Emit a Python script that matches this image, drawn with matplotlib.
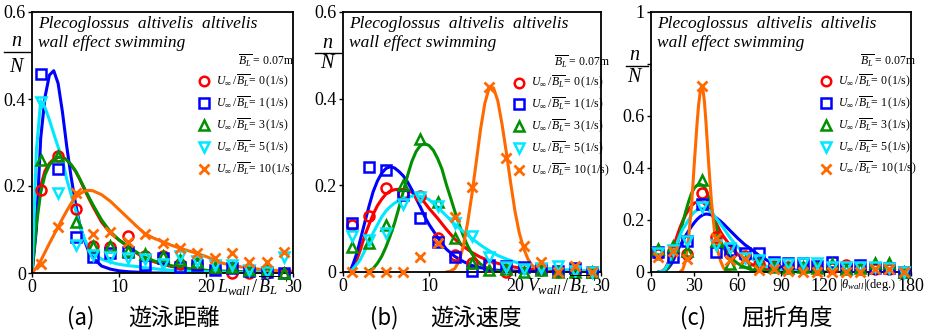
import matplotlib
matplotlib.use('Agg')
import matplotlib.pyplot as plt
from matplotlib.lines import Line2D

plt.rcParams['font.family'] = ['Liberation Serif', 'DejaVu Serif']
plt.rcParams['mathtext.fontset'] = 'custom'
plt.rcParams['mathtext.rm'] = 'Liberation Serif'
plt.rcParams['mathtext.it'] = 'Liberation Serif:italic'
plt.rcParams['mathtext.bf'] = 'Liberation Serif:bold'

# ---------------- series ----------------
speeds = ['0', '1', '3', '5', '10']
colors = ['#ff0000', '#0000ff', '#009000', '#00e8ff', '#ff6a00']
markers = ['o', 's', '^', 'v', 'x']

# ---------------- (a) swimming distance ----------------
dist_x = [1, 3, 5, 7, 9, 11, 13, 15, 17, 19, 21, 23, 25, 27, 29]
dist_p0 = [0.19, 0.269, 0.146, 0.061, 0.06, 0.084, 0.04, 0.038, 0.02, 0.02, 0.01, 0.0, 0.0, 0.0, 0.0]
dist_p1 = [0.458, 0.238, 0.083, 0.037, 0.045, 0.048, 0.018, 0.035, 0.014, 0.018, 0.006, 0.012, 0.004, 0.003, 0.0]
dist_p3 = [0.259, 0.268, 0.117, 0.061, 0.061, 0.05, 0.044, 0.038, 0.03, 0.025, 0.014, 0.014, 0.008, 0.006, 0.0]
dist_p5 = [0.393, 0.184, 0.064, 0.041, 0.037, 0.035, 0.033, 0.021, 0.038, 0.028, 0.018, 0.018, 0.008, 0.003, 0.037]
dist_p10 = [0.021, 0.106, 0.184, 0.09, 0.094, 0.071, 0.09, 0.069, 0.058, 0.046, 0.035, 0.046, 0.025, 0.025, 0.048]

dist_cx = [0, 0.5, 1, 1.5, 2, 2.5, 3, 3.5, 4, 4.5, 5, 5.5, 6, 6.5, 7, 8, 9, 10, 11, 12, 13, 14,
           15, 16, 17, 18, 19, 20, 22, 24, 26, 28, 30]
dist_c0 = [0, 0.13, 0.2, 0.235, 0.252, 0.262, 0.266, 0.266, 0.26, 0.248, 0.234, 0.215, 0.193, 0.173,
           0.153, 0.117, 0.092, 0.076, 0.061, 0.046, 0.034, 0.026, 0.02, 0.015, 0.012, 0.009, 0.007,
           0.006, 0.004, 0.003, 0.002, 0.001, 0.001]
dist_c1 = [0, 0.1, 0.31, 0.405, 0.455, 0.465, 0.436, 0.37, 0.29, 0.22, 0.16, 0.11, 0.077, 0.05,
           0.035, 0.016, 0.009, 0.005, 0.003, 0.002, 0.001, 0, 0, 0, 0, 0, 0, 0, 0, 0, 0, 0, 0]
dist_c3 = [0, 0.11, 0.185, 0.226, 0.248, 0.26, 0.266, 0.266, 0.26, 0.249, 0.235, 0.216, 0.196, 0.176,
           0.157, 0.122, 0.095, 0.076, 0.062, 0.048, 0.036, 0.028, 0.022, 0.017, 0.013, 0.01, 0.008,
           0.006, 0.004, 0.003, 0.002, 0.001, 0.001]
dist_c5 = [0, 0.28, 0.396, 0.38, 0.352, 0.32, 0.29, 0.26, 0.215, 0.18, 0.145, 0.11, 0.08, 0.058,
           0.045, 0.032, 0.025, 0.02, 0.017, 0.015, 0.012, 0.01, 0.008, 0.006, 0.005, 0.004, 0.003,
           0.003, 0.002, 0.001, 0.001, 0, 0]
dist_c10 = [0, 0.012, 0.028, 0.048, 0.068, 0.087, 0.106, 0.125, 0.143, 0.16, 0.174, 0.182, 0.188, 0.19,
            0.189, 0.18, 0.165, 0.146, 0.127, 0.108, 0.09, 0.08, 0.072, 0.064, 0.057, 0.051, 0.045,
            0.038, 0.022, 0.014, 0.009, 0.006, 0.004]

# ---------------- (b) swimming speed ----------------
speed_x = [1, 3, 5, 7, 9, 11, 13, 15, 17, 19, 21, 23, 25, 27, 29]
speed_p0 = [0.108, 0.13, 0.193, 0.18, 0.175, 0.079, 0.04, 0.02, 0.015, 0.0, 0.01, 0.005, 0.0, 0.0, 0.0]
speed_p1 = [0.112, 0.242, 0.235, 0.178, 0.124, 0.07, 0.034, 0.003, 0.016, 0.014, 0.011, 0.006, 0.002, 0.01, 0.0]
speed_p3 = [0.058, 0.066, 0.108, 0.2, 0.308, 0.162, 0.078, 0.02, 0.004, 0.006, 0.0, 0.005, 0.0, 0.0, 0.0]
speed_p5 = [0.082, 0.074, 0.091, 0.157, 0.172, 0.152, 0.112, 0.082, 0.035, 0.012, 0.008, 0.01, 0.014, 0.002, 0.0]
speed_p10 = [0.0, 0.0, 0.0, 0.0, 0.035, 0.068, 0.126, 0.197, 0.428, 0.263, 0.06, 0.023, 0.0, 0.014, 0.0]

speed_cx = [0.8, 1.2, 1.6, 2, 2.5, 3, 3.5, 4, 4.5, 5, 5.5, 6, 6.5, 7, 7.5, 8, 8.5, 9, 9.5, 10,
            11, 12, 13, 14, 15, 16, 17, 18, 19, 20, 22, 24, 26, 28, 30]
speed_c0 = [0, 0.012, 0.028, 0.05, 0.082, 0.108, 0.133, 0.153, 0.168, 0.18, 0.187, 0.19, 0.191, 0.19,
            0.188, 0.184, 0.178, 0.17, 0.16, 0.147, 0.124, 0.099, 0.076, 0.059, 0.045, 0.034, 0.026,
            0.02, 0.015, 0.011, 0.006, 0.003, 0.002, 0.001, 0]
speed_c1 = [0, 0.02, 0.043, 0.073, 0.112, 0.15, 0.185, 0.21, 0.228, 0.239, 0.243, 0.24, 0.232, 0.222,
            0.208, 0.19, 0.17, 0.15, 0.128, 0.11, 0.08, 0.053, 0.036, 0.024, 0.015, 0.01, 0.006,
            0.004, 0.003, 0.002, 0.001, 0, 0, 0, 0]
speed_c5 = [0, 0.008, 0.018, 0.028, 0.048, 0.07, 0.09, 0.109, 0.127, 0.141, 0.151, 0.159, 0.165, 0.17,
            0.173, 0.175, 0.176, 0.175, 0.172, 0.167, 0.15, 0.13, 0.11, 0.093, 0.077, 0.062, 0.049,
            0.038, 0.03, 0.023, 0.013, 0.008, 0.005, 0.003, 0.002]
speed_c3x = [2.8, 3.5, 4, 4.5, 5, 5.5, 6, 6.5, 7, 7.5, 8, 8.5, 9, 9.5, 10, 10.5, 11, 11.5, 12, 12.5,
             13, 13.5, 14, 14.5, 15, 15.5, 16, 17, 18, 19, 20]
speed_c3 = [0, 0.008, 0.02, 0.036, 0.058, 0.084, 0.113, 0.148, 0.185, 0.222, 0.255, 0.278, 0.292, 0.296,
            0.292, 0.281, 0.262, 0.238, 0.203, 0.172, 0.14, 0.11, 0.083, 0.06, 0.042, 0.028, 0.018,
            0.006, 0.002, 0.001, 0]
speed_c10x = [12, 12.5, 13, 13.5, 14, 14.5, 15, 15.5, 16, 16.5, 17, 17.5, 18, 18.5, 19, 19.5, 20,
              20.5, 21, 21.5, 22, 22.5, 23, 24]
speed_c10 = [0, 0.002, 0.008, 0.025, 0.06, 0.115, 0.18, 0.255, 0.33, 0.39, 0.425, 0.425, 0.395, 0.34,
             0.275, 0.205, 0.14, 0.09, 0.055, 0.03, 0.015, 0.007, 0.003, 0]

# ---------------- (c) refraction angle ----------------
ang_x = [5, 15, 25, 35, 45, 55, 65, 75, 85, 95, 105, 115, 125, 135, 145, 155, 165, 175]
ang_p0 = [0.07, 0.08, 0.07, 0.303, 0.133, 0.07, 0.06, 0.03, 0.025, 0.02, 0.015, 0.01, 0.015, 0.028, 0.01, 0.01, 0.01, 0.0]
ang_p1 = [0.078, 0.056, 0.119, 0.262, 0.078, 0.085, 0.072, 0.074, 0.04, 0.034, 0.034, 0.025, 0.04, 0.015, 0.026, 0.015, 0.015, 0.0]
ang_p3 = [0.087, 0.1, 0.082, 0.354, 0.12, 0.031, 0.04, 0.031, 0.02, 0.015, 0.02, 0.015, 0.03, 0.01, 0.015, 0.035, 0.035, 0.0]
ang_p5 = [0.072, 0.085, 0.119, 0.251, 0.104, 0.091, 0.053, 0.046, 0.03, 0.03, 0.036, 0.034, 0.02, 0.02, 0.02, 0.02, 0.015, 0.0]
ang_p10 = [0.056, 0.082, 0.049, 0.715, 0.13, 0.046, 0.049, 0.008, 0.013, 0.005, 0.0, 0.0, 0.0, 0.0, 0.0, 0.013, 0.013, 0.0]

ang_cx = [5, 8, 10, 12, 14, 16, 18, 20, 22, 24, 26, 28, 30, 32, 34, 36, 38, 40, 42, 44, 46, 48, 50,
          55, 60, 65, 70, 75, 80, 85, 90, 95, 100, 110, 120]
ang_c0 = [0, 0.004, 0.015, 0.038, 0.07, 0.104, 0.138, 0.17, 0.197, 0.22, 0.24, 0.255, 0.265, 0.27,
          0.271, 0.267, 0.257, 0.242, 0.224, 0.202, 0.178, 0.156, 0.138, 0.1, 0.068, 0.045, 0.028,
          0.017, 0.01, 0.006, 0.003, 0.002, 0.001, 0, 0]
ang_c1 = [0, 0.002, 0.006, 0.015, 0.03, 0.052, 0.078, 0.1, 0.12, 0.14, 0.158, 0.175, 0.19, 0.203,
          0.213, 0.22, 0.223, 0.222, 0.219, 0.213, 0.205, 0.196, 0.186, 0.158, 0.13, 0.105, 0.085,
          0.063, 0.046, 0.032, 0.02, 0.012, 0.007, 0.002, 0]
ang_c3 = [0, 0, 0.005, 0.02, 0.042, 0.072, 0.1, 0.147, 0.19, 0.232, 0.27, 0.302, 0.323, 0.334, 0.337,
          0.333, 0.318, 0.285, 0.24, 0.197, 0.158, 0.123, 0.095, 0.055, 0.033, 0.018, 0.008, 0.004,
          0.002, 0.001, 0, 0, 0, 0, 0]
ang_c5 = [0, 0.003, 0.013, 0.032, 0.058, 0.088, 0.112, 0.14, 0.165, 0.182, 0.2, 0.218, 0.23, 0.239,
          0.244, 0.245, 0.243, 0.238, 0.228, 0.215, 0.2, 0.185, 0.17, 0.13, 0.097, 0.07, 0.05, 0.034,
          0.022, 0.014, 0.009, 0.006, 0.004, 0.001, 0]
ang_c10x = [20, 22, 24, 26, 28, 30, 32, 33, 34, 35, 36, 37, 38, 40, 42, 44, 46, 48, 50, 52, 55]
ang_c10 = [0, 0.01, 0.045, 0.13, 0.25, 0.42, 0.58, 0.645, 0.69, 0.712, 0.7, 0.655, 0.58, 0.41, 0.26,
           0.155, 0.085, 0.045, 0.018, 0.006, 0]

# ---------------- axes text ----------------
title_line1 = 'Plecoglossus  altivelis  altivelis'
title_line2 = 'wall effect swimming'
legend_title = r'$\overline{B_L}$ = 0.07m'
captions = [('(a)', '遊泳距離'), ('(b)', '遊泳速度'), ('(c)', '屈折角度')]

W, H = 942, 336
fig = plt.figure(figsize=(W / 100, H / 100), dpi=100)


def px_axes(l, r, t, b):
    return fig.add_axes([l / W, 1 - b / H, (r - l) / W, (b - t) / H])


def draw_panel(ax, pts_x, pts, curves, xlim, ylim, xticks, xticklabels, yticks, yticklabels,
               xlabel, xlabel_x, xlabel_fs, nN_px, leg_anchor):
    for (cx, cy), c in zip(curves, colors):
        ax.plot(cx, cy, color=c, lw=2.2, zorder=2, solid_capstyle='round')
    handles = []
    for py, c, m in zip(pts, colors, markers):
        h, = ax.plot(pts_x, py, linestyle='none', marker=m, markersize=7.2,
                     markerfacecolor='none' if m != 'x' else c, markeredgecolor=c,
                     markeredgewidth=1.8 if m != 'x' else 2.0, zorder=3, clip_on=False)
        handles.append(h)
    ax.set_xlim(*xlim)
    ax.set_ylim(*ylim)
    ax.set_xticks(xticks)
    ax.set_xticklabels(xticklabels)
    ax.set_yticks(yticks)
    ax.set_yticklabels(yticklabels)
    ax.tick_params(direction='out', length=3, width=1, labelsize=13, pad=1.5, colors='black')
    for s in ax.spines.values():
        s.set_linewidth(1.3)
    ax.text(xlabel_x, -0.05, xlabel, transform=ax.get_xaxis_transform(), ha='center', va='center',
            fontsize=xlabel_fs)
    ax.text(0.024, 0.955, title_line1, transform=ax.transAxes, fontsize=12.5, style='italic',
            ha='left', va='center')
    ax.text(0.024, 0.882, title_line2, transform=ax.transAxes, fontsize=12.5, style='italic',
            ha='left', va='center')
    nx, ny_n, ny_line, ny_N, lx0, lx1 = nN_px
    fig.text(nx / W, 1 - ny_n / H, 'n', fontsize=14.5, style='italic', ha='center', va='center')
    fig.text(nx / W, 1 - ny_N / H, 'N', fontsize=14.5, style='italic', ha='center', va='center')
    fig.add_artist(Line2D([lx0 / W, lx1 / W], [1 - ny_line / H, 1 - ny_line / H], color='black', lw=1.0))
    labels = [r'$U_\infty\,/\,\overline{B_L}$= %s$\,$(1/s)' % s for s in speeds]
    leg = ax.legend(handles, labels, title=legend_title, loc='upper left', bbox_to_anchor=leg_anchor,
                    frameon=False, fontsize=8.5, title_fontsize=8.5, handlelength=0.8,
                    handletextpad=0.6, labelspacing=0.38, borderpad=0, borderaxespad=0,
                    alignment='right', markerscale=0.95)
    leg._legend_box.sep = 3
    return leg


ax1 = px_axes(32, 293, 12, 273)
draw_panel(ax1, dist_x, [dist_p0, dist_p1, dist_p3, dist_p5, dist_p10],
           [(dist_cx, dist_c0), (dist_cx, dist_c1), (dist_cx, dist_c3), (dist_cx, dist_c5),
            (dist_cx, dist_c10)],
           (0, 30), (0, 0.6), [0, 10, 20, 30], ['0', '10', '20', '30'],
           [0, 0.2, 0.4, 0.6], ['0', '0.2', '0.4', '0.6'],
           r'$L_{wall}\,/\,\overline{B_L}$', 24.8, 13, (16, 42, 52, 67, 4, 30), (0.64, 0.845))

ax2 = px_axes(343, 601, 12, 272)
draw_panel(ax2, speed_x, [speed_p0, speed_p1, speed_p3, speed_p5, speed_p10],
           [(speed_cx, speed_c0), (speed_cx, speed_c1), (speed_c3x, speed_c3), (speed_cx, speed_c5),
            (speed_c10x, speed_c10)],
           (0, 30), (0, 0.6), [0, 10, 20, 30], ['0', '10', '20', '30'],
           [0, 0.2, 0.4, 0.6], ['0', '0.2', '0.4', '0.6'],
           r'$V_{wall}\,/\,\overline{B_L}$', 25.0, 13, (327, 44, 53, 64, 315, 342), (0.665, 0.84))

ax3 = px_axes(651, 911, 12, 272)
draw_panel(ax3, ang_x, [ang_p0, ang_p1, ang_p3, ang_p5, ang_p10],
           [(ang_cx, ang_c0), (ang_cx, ang_c1), (ang_cx, ang_c3), (ang_cx, ang_c5),
            (ang_c10x, ang_c10)],
           (0, 180), (0, 1), [0, 30, 60, 90, 120, 150, 180], ['0', '30', '60', '90', '120', '', '180'],
           [0, 0.2, 0.4, 0.6, 0.8, 1.0], ['0', '0.2', '0.4', '0.6', '', '1'],
           r'$|\theta_{wall}|$(deg.)', 149.8, 9.0, (634, 55, 66, 78, 626, 648), (0.655, 0.845))

cap_font = ['Noto Sans CJK JP', 'DejaVu Sans']
cap_pos = [(67, 128), (370, 430), (680, 741)]
for (lab, jp), (xa, xj) in zip(captions, cap_pos):
    fig.text(xa / W, 1 - 318 / H, lab, family=cap_font, fontsize=16, ha='left', va='center')
    fig.text(xj / W, 1 - 318 / H, jp, family=cap_font, fontsize=16.5, ha='left', va='center')

fig.savefig('out.png', dpi=100)
